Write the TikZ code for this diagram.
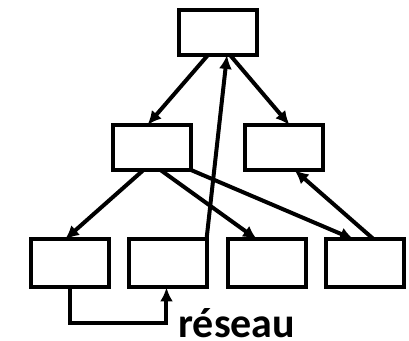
\documentclass[tikz,border=0pt]{standalone}
\usepackage{fontspec}
\setmainfont{Carlito}
\usepackage{tikz}
\tikzstyle{box}=[rectangle,line width=2pt,draw=black,fill=white,outer sep=0pt,
minimum width=39pt,minimum height=22.5pt,inner sep=0pt]
\tikzstyle{lbox}=[box,minimum height=24pt]
\tikzstyle{lbl}=[font=\fontsize{21pt}{24pt}\selectfont\bfseries,inner sep=0pt]
\usetikzlibrary{arrows.meta,positioning}

\begin{document}
\begin{tikzpicture}[node distance=57.5pt, >={Latex[length=7pt,width=6.5pt]}, line width=2pt]
            \useasboundingbox (-109pt,16.25pt) rectangle (95.5pt,-154.25pt);

            % TOP PART

            \node[box] (top) {};
            \node[box, below of=top, xshift=-33pt] (ml) {};
            \node[box, below of=top, xshift=33pt] (mr) {};

            % BOTTOM PART

            \node[lbox, below of=ml, xshift=-41pt, yshift=-0.5pt] (b1) {};
            \node[lbox, right of=b1, node distance=49.25pt] (b2) {};
            \node[lbox, right of=b2, node distance=49.25pt] (b3) {};
            \node[lbox, right of=b3, node distance=49.25pt] (b4) {};

            \path[->] ([xshift=-5pt]top.south) edge node {} ([xshift=-2.25pt]ml.north);
            \path[->] ([xshift=6pt]top.south) edge node {} ([xshift=2.75pt]mr.north);
            \path[->] ([xshift=-4.25pt]ml.south) edge node {} ([xshift=-2.5pt]b1.north);
            \path[->] ([xshift=4.25pt]ml.south) edge node {} ([xshift=-5pt]b3.north);
            \path[->] (ml.south east) edge node {} ([xshift=-5.75pt]b4.north);
            \path[->] ([xshift=4.25pt]b4.north) edge node {} ([xshift=5.25pt]mr.south);
            \path[->] ([xshift=-0.5pt]b2.north east) edge node {} ([xshift=4.5pt]top.south);

            % Network PART

            \coordinate[below=18pt of b1.south] (c1);
            \draw[->] (b1.south) -- (c1) -| ([xshift=-1pt]b2.south);
            \node[lbl, anchor=base west] (net) at ([xshift=4pt,yshift=-37pt]b2.center) {réseau};

        \end{tikzpicture}
\end{document}
